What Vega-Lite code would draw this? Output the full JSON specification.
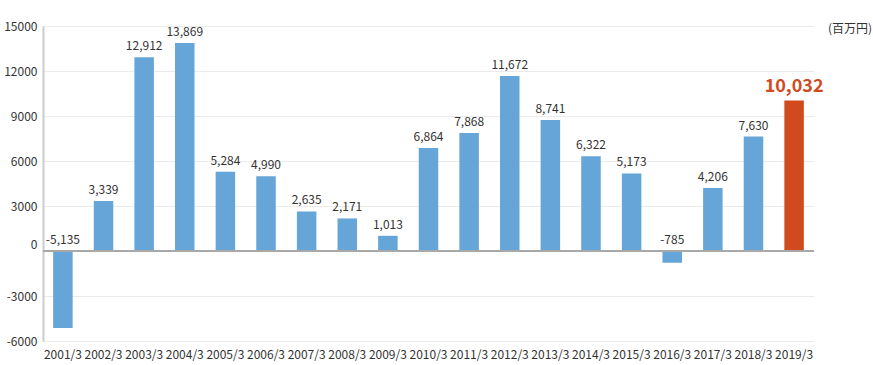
{
  "$schema": "https://vega.github.io/schema/vega-lite/v6.json",
  "width": 771,
  "height": 315,
  "autosize": {"type": "none"},
  "padding": {"left": 43, "top": 26, "right": 59, "bottom": 24},
  "background": "white",
  "title": {
    "text": "(百万円)",
    "anchor": "end",
    "frame": "group",
    "orient": "top",
    "baseline": "middle",
    "offset": 0,
    "dx": 58,
    "dy": 21,
    "font": "Noto Sans CJK JP",
    "fontSize": 12,
    "fontWeight": "normal",
    "color": "#333333"
  },
  "config": {
    "view": {"stroke": null},
    "font": "Noto Sans CJK JP",
    "locale": {"number": {"decimal": ".", "thousands": ",", "grouping": [3], "currency": ["", ""], "minus": "-"}},
    "axis": {"labelFont": "Noto Sans CJK JP", "labelFontSize": 12, "labelColor": "#333333"}
  },
  "data": {
    "values": [
      {"year": "2001/3", "value": -5135},
      {"year": "2002/3", "value": 3339},
      {"year": "2003/3", "value": 12912},
      {"year": "2004/3", "value": 13869},
      {"year": "2005/3", "value": 5284},
      {"year": "2006/3", "value": 4990},
      {"year": "2007/3", "value": 2635},
      {"year": "2008/3", "value": 2171},
      {"year": "2009/3", "value": 1013},
      {"year": "2010/3", "value": 6864},
      {"year": "2011/3", "value": 7868},
      {"year": "2012/3", "value": 11672},
      {"year": "2013/3", "value": 8741},
      {"year": "2014/3", "value": 6322},
      {"year": "2015/3", "value": 5173},
      {"year": "2016/3", "value": -785},
      {"year": "2017/3", "value": 4206},
      {"year": "2018/3", "value": 7630},
      {"year": "2019/3", "value": 10032}
    ]
  },
  "encoding": {
    "x": {
      "field": "year",
      "type": "ordinal",
      "sort": null,
      "scale": {"paddingInner": 0.52, "paddingOuter": 0.25},
      "axis": {
        "title": null,
        "labelAngle": 0,
        "domain": false,
        "ticks": false,
        "labelPadding": 8
      }
    }
  },
  "layer": [
    {
      "mark": {"type": "bar"},
      "encoding": {
        "y": {
          "field": "value",
          "type": "quantitative",
          "scale": {"domain": [-6000, 15000], "nice": false},
          "axis": {
            "title": null,
            "values": [-6000, -3000, 0, 3000, 6000, 9000, 12000, 15000],
            "format": "d",
            "ticks": false,
            "domainColor": "#cccccc",
            "domainWidth": 2,
            "gridColor": "#ebebeb",
            "gridWidth": 1,
            "labelPadding": 6,
            "labelBaseline": {"condition": {"test": "datum.value === 0", "value": "bottom"}, "value": "middle"}
          }
        },
        "color": {
          "condition": {"test": "datum.year === '2019/3'", "value": "#d04a1e"},
          "value": "#66a5d8"
        }
      }
    },
    {
      "mark": {"type": "rule", "color": "#a8a8a8", "strokeWidth": 2},
      "encoding": {"y": {"datum": 0}, "x": null}
    },
    {
      "transform": [{"filter": "datum.value >= 0 && datum.year !== '2019/3'"}],
      "mark": {"type": "text", "baseline": "bottom", "dy": -4, "fontSize": 12, "color": "#333333"},
      "encoding": {
        "y": {"field": "value", "type": "quantitative"},
        "text": {"field": "value", "type": "quantitative", "format": ","}
      }
    },
    {
      "transform": [{"filter": "datum.value < 0"}],
      "mark": {"type": "text", "baseline": "bottom", "dy": -4, "fontSize": 12, "color": "#333333"},
      "encoding": {
        "y": {"datum": 0},
        "text": {"field": "value", "type": "quantitative", "format": ","}
      }
    },
    {
      "transform": [{"filter": "datum.year === '2019/3'"}],
      "mark": {"type": "text", "baseline": "bottom", "dy": -5, "fontSize": 18, "fontWeight": "bold", "color": "#d04a1e"},
      "encoding": {
        "y": {"field": "value", "type": "quantitative"},
        "text": {"field": "value", "type": "quantitative", "format": ","}
      }
    }
  ]
}
